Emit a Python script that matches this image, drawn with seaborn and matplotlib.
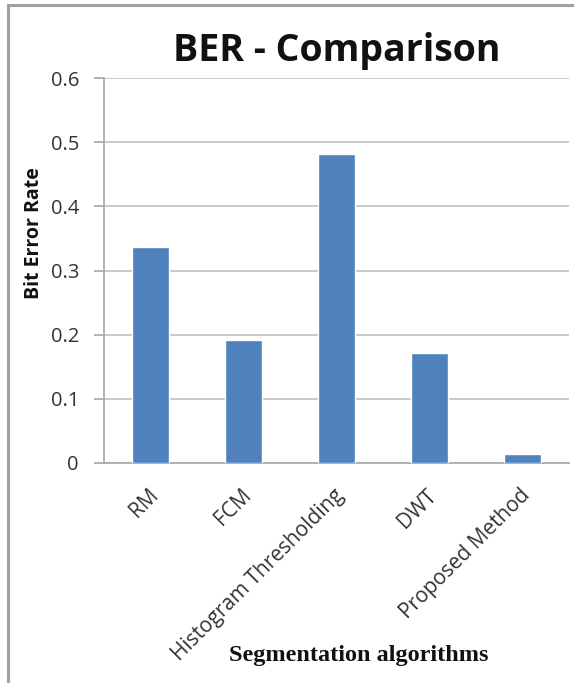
import matplotlib
matplotlib.use("Agg")
import matplotlib.pyplot as plt
from matplotlib.lines import Line2D
from matplotlib.transforms import ScaledTranslation
import seaborn as sns
import pandas as pd

algorithms = ["RM", "FCM", "Histogram Thresholding", "DWT", "Proposed Method"]
ber_values = [0.337, 0.192, 0.481, 0.171, 0.014]
y_ticks = [0, 0.1, 0.2, 0.3, 0.4, 0.5, 0.6]
y_tick_labels = ["0", "0.1", "0.2", "0.3", "0.4", "0.5", "0.6"]

df = pd.DataFrame({"Algorithm": algorithms, "BER": ber_values})

sns.set_theme(style="white")
plt.rcParams["font.family"] = ["Open Sans", "DejaVu Sans"]

W, H = 574, 683
fig = plt.figure(figsize=(W / 100, H / 100), dpi=100)
ax = fig.add_axes([104 / W, 1 - 463 / H, (569 - 104) / W, (463 - 78) / H])

sns.barplot(data=df, x="Algorithm", y="BER", color="#4F81BD", width=0.39,
            saturation=1, ax=ax, zorder=3)

ax.set_ylim(0, 0.6)
ax.set_xlim(-0.5, len(algorithms) - 0.5)
ax.set_yticks(y_ticks)
ax.set_yticklabels(y_tick_labels, fontsize=14.5, color="#333333")
ax.yaxis.grid(True, color="#C0C0C0", linewidth=1.2, zorder=0)
ax.xaxis.grid(False)
ax.tick_params(axis="y", which="major", length=7, width=1.2, color="#A6A6A6",
               left=True, pad=11)
ax.tick_params(axis="x", length=0, pad=0)

for s in ["top", "right"]:
    ax.spines[s].set_visible(False)
for s in ["left", "bottom"]:
    ax.spines[s].set_color("#A6A6A6")
    ax.spines[s].set_linewidth(1.2)

ax.set_xticks(range(len(algorithms)))
ax.set_xticklabels(algorithms, rotation=45, ha="right", rotation_mode="anchor",
                   fontsize=15, color="#333333")
shift = ScaledTranslation(-3 / 100, -22 / 100, fig.dpi_scale_trans)
for lbl in ax.get_xticklabels():
    lbl.set_transform(lbl.get_transform() + shift)

ax.set_ylabel("Bit Error Rate", fontsize=14, fontweight="bold", color="#111111")
ax.yaxis.set_label_coords((44 - 104) / 465, (463 - 233) / 385)

ax.set_xlabel("")
fig.text(359 / W, 1 - 655 / H, "Segmentation algorithms", ha="center", va="center",
         fontsize=17.5, fontweight="bold", family="Liberation Serif", color="#111111")

fig.text(337 / W, 1 - 51 / H, "BER - Comparison", ha="center", va="center",
         fontsize=27, fontweight="bold", color="#111111")

# outer frame along the left and top edges
fig.add_artist(Line2D([8 / W, 8 / W], [0, 1 - 5 / H], transform=fig.transFigure,
                      color="#A0A0A0", linewidth=2.2))
fig.add_artist(Line2D([8 / W, 1], [1 - 5 / H, 1 - 5 / H], transform=fig.transFigure,
                      color="#A0A0A0", linewidth=2.2))

fig.savefig("out.png", dpi=100, facecolor="white")
